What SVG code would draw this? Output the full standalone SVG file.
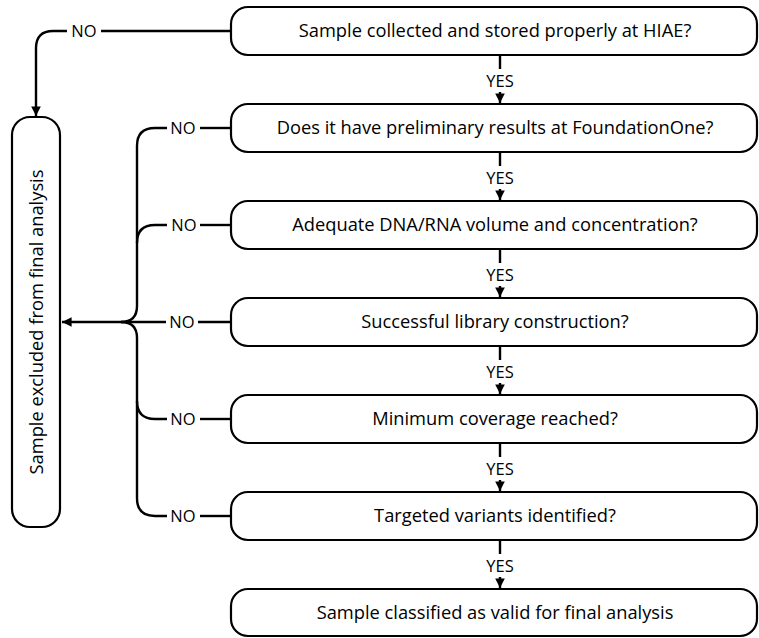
<svg xmlns="http://www.w3.org/2000/svg" width="759" height="638" viewBox="0 0 759 638">
<style>
.box{fill:#fff;stroke:#000;stroke-width:2.2}
.t{font-family:"Open Sans","Liberation Sans",sans-serif;font-size:18.3px;fill:#000;text-anchor:middle}
.l{font-family:"Open Sans","Liberation Sans",sans-serif;font-size:16.5px;fill:#000;text-anchor:middle}
.c{fill:none;stroke:#000;stroke-width:2.4}
</style>
<defs>
<marker id="ah" viewBox="0 0 10 10" refX="10" refY="5" markerWidth="4" markerHeight="4" orient="auto" markerUnits="strokeWidth">
<path d="M0,0 L10,5 L0,10 Z" fill="#000"/>
</marker>
</defs>
<g id="connectors">
<path class="c" d="M500,55 V69"/><path class="c" d="M500,92 V103" marker-end="url(#ah)"/>
<path class="c" d="M500,152 V166"/><path class="c" d="M500,189 V200" marker-end="url(#ah)"/>
<path class="c" d="M500,249 V263"/><path class="c" d="M500,286 V297" marker-end="url(#ah)"/>
<path class="c" d="M500,346 V360"/><path class="c" d="M500,383 V394" marker-end="url(#ah)"/>
<path class="c" d="M500,443 V457"/><path class="c" d="M500,480 V491" marker-end="url(#ah)"/>
<path class="c" d="M500,540 V554"/><path class="c" d="M500,577 V588" marker-end="url(#ah)"/>
<text class="l" x="500" y="87">YES</text>
<text class="l" x="500" y="184">YES</text>
<text class="l" x="500" y="281">YES</text>
<text class="l" x="500" y="378">YES</text>
<text class="l" x="500" y="475">YES</text>
<text class="l" x="500" y="572">YES</text>
<path class="c" d="M231,31 H101"/>
<path class="c" d="M67,31 H53 Q36,31 36,48 V116" marker-end="url(#ah)"/>
<text class="l" x="84" y="37">NO</text>
<path class="c" d="M231,128 H200"/><path class="c" d="M167,128 H155 Q137,128 137,146 V306 Q137,322 121,322"/>
<text class="l" x="183" y="134">NO</text>
<path class="c" d="M231,225 H200"/><path class="c" d="M167,225 H155 Q137,225 137,243"/>
<text class="l" x="184" y="231">NO</text>
<path class="c" d="M231,322 H198"/><path class="c" d="M166,322 H62" marker-end="url(#ah)"/>
<text class="l" x="182" y="328">NO</text>
<path class="c" d="M231,419 H200"/><path class="c" d="M167,419 H155 Q137,419 137,401"/>
<text class="l" x="183" y="425">NO</text>
<path class="c" d="M231,516 H200"/><path class="c" d="M167,516 H155 Q137,516 137,498 V338 Q137,322 121,322"/>
<text class="l" x="183" y="522">NO</text>
</g>
<g id="n1"><rect class="box" x="231" y="7" width="526" height="48" rx="17"/><text class="t" x="495" y="37">Sample collected and stored properly at HIAE?</text></g>
<g id="n2"><rect class="box" x="231" y="104" width="526" height="48" rx="17"/><text class="t" x="495" y="134">Does it have preliminary results at FoundationOne?</text></g>
<g id="n3"><rect class="box" x="231" y="201" width="526" height="48" rx="17"/><text class="t" x="495" y="231">Adequate DNA/RNA volume and concentration?</text></g>
<g id="n4"><rect class="box" x="231" y="298" width="526" height="48" rx="17"/><text class="t" x="495" y="328">Successful library construction?</text></g>
<g id="n5"><rect class="box" x="231" y="395" width="526" height="48" rx="17"/><text class="t" x="495" y="425">Minimum coverage reached?</text></g>
<g id="n6"><rect class="box" x="231" y="492" width="526" height="48" rx="17"/><text class="t" x="495" y="522">Targeted variants identified?</text></g>
<g id="n7"><rect class="box" x="231" y="589" width="526" height="47" rx="17"/><text class="t" x="495" y="619">Sample classified as valid for final analysis</text></g>
<g id="excluded"><rect class="box" x="12" y="117" width="48" height="410" rx="18"/><text class="t" transform="translate(43,322) rotate(-90)">Sample excluded from final analysis</text></g>
</svg>
